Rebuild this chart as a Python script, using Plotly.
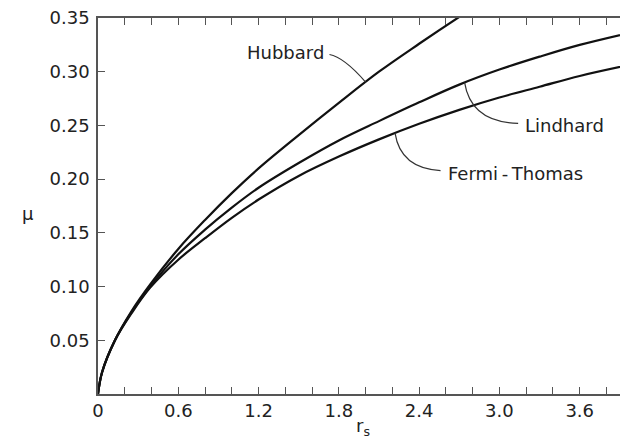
import numpy as np
import plotly.graph_objects as go

# ---- data ----
rs_hubbard = [0, 0.03, 0.127, 0.25, 0.39, 0.6, 0.8, 1.0, 1.2, 1.5, 1.8, 2.1, 2.4, 2.7, 3.0]
mu_hubbard = [0, 0.020, 0.050, 0.077, 0.102, 0.135, 0.162, 0.187, 0.210, 0.241, 0.271, 0.300, 0.326, 0.351, 0.375]

rs_lindhard = [0, 0.03, 0.127, 0.25, 0.39, 0.6, 0.8, 1.0, 1.2, 1.5, 1.8, 2.1, 2.4, 2.7, 3.0, 3.3, 3.6, 4.0]
mu_lindhard = [0, 0.020, 0.050, 0.076, 0.100, 0.130, 0.153, 0.1735, 0.192, 0.215, 0.236, 0.254, 0.2715, 0.288, 0.302, 0.314, 0.325, 0.337]

rs_fermi = [0, 0.03, 0.127, 0.25, 0.39, 0.6, 0.8, 1.0, 1.2, 1.5, 1.8, 2.1, 2.4, 2.7, 3.0, 3.3, 3.6, 4.0]
mu_fermi = [0, 0.020, 0.050, 0.075, 0.099, 0.125, 0.145, 0.164, 0.181, 0.203, 0.221, 0.237, 0.2515, 0.2645, 0.276, 0.286, 0.296, 0.307]

x_ticks = [0, 0.6, 1.2, 1.8, 2.4, 3.0, 3.6]
x_ticklabels = ["0", "0.6", "1.2", "1.8", "2.4", "3.0", "3.6"]
y_ticks = [0.05, 0.10, 0.15, 0.20, 0.25, 0.30, 0.35]
y_ticklabels = ["0.05", "0.10", "0.15", "0.20", "0.25", "0.30", "0.35"]

# label positions (data units) and where the leader lines touch the curves
hub_label = (1.73, 0.316)
hub_touch_r = 2.0
lin_label = (3.14, 0.252)
lin_touch_r = 2.74
ft_label = (2.56, 0.208)
ft_touch_r = 2.22

XMAX = 3.961
YMAX = 0.35
INK = "#111111"
AX = "#555555"
FONT = "DejaVu Sans"

fig = go.Figure()
for xs, ys in [(rs_hubbard, mu_hubbard), (rs_lindhard, mu_lindhard), (rs_fermi, mu_fermi)]:
    fig.add_trace(go.Scatter(x=xs, y=ys, mode="lines", line=dict(color=INK, width=2.2, shape="spline", smoothing=1.0),
                             showlegend=False, hoverinfo="skip"))
# invisible trace to carry the right-hand axis
fig.add_trace(go.Scatter(x=[0], y=[0], yaxis="y2", mode="markers", marker=dict(opacity=0),
                         showlegend=False, hoverinfo="skip"))

def leader(touch_r, xs, ys, label, ctrl_frac_x, ctrl_y):
    ty = float(np.interp(touch_r, xs, ys))
    lx, ly = label
    cx = touch_r + ctrl_frac_x * (lx - touch_r)
    return f"M {touch_r},{ty} Q {cx},{ctrl_y} {lx},{ly}"

lead = dict(color="#333", width=1.2)
shapes = [
    dict(type="path", path=leader(hub_touch_r, rs_hubbard, mu_hubbard, hub_label, 0.6, 0.3135), xref="x", yref="y", line=lead),
    dict(type="path", path=leader(lin_touch_r, rs_lindhard, mu_lindhard, lin_label, 0.12, 0.253), xref="x", yref="y", line=lead),
    dict(type="path", path=leader(ft_touch_r, rs_fermi, mu_fermi, ft_label, 0.12, 0.210), xref="x", yref="y", line=lead),
]

tf = dict(family=FONT, size=18, color="#222")
annotations = [
    dict(x=hub_label[0], y=hub_label[1], text="Hubbard", showarrow=False, xanchor="right", yanchor="middle",
         xshift=-3, yshift=2, font=tf),
    dict(x=lin_label[0], y=lin_label[1], text="Lindhard", showarrow=False, xanchor="left", yanchor="middle",
         xshift=5, yshift=-2, font=tf),
    dict(x=ft_label[0], y=ft_label[1], text="Fermi\u2009-\u2009Thomas", showarrow=False, xanchor="left", yanchor="middle",
         xshift=5, yshift=-3, font=tf),
    dict(x=0.5, y=0, xref="paper", yref="paper", text="r<sub>s</sub>", showarrow=False,
         xanchor="center", yanchor="top", yshift=-19, font=dict(family=FONT, size=18, color="#222")),
    dict(x=0, y=0.481, xref="paper", yref="paper", text="\u03bc", showarrow=False,
         xanchor="center", yanchor="middle", xshift=-70, font=dict(family=FONT, size=18, color="#222")),
]

# the page body adds an 8px offset, so the figure is sized to fit the 628x438 window
fig.update_layout(
    width=620, height=430,
    margin=dict(l=90, r=0, t=10, b=44),
    paper_bgcolor="white", plot_bgcolor="white",
    shapes=shapes, annotations=annotations,
    xaxis=dict(range=[0, XMAX], tickvals=x_ticks, ticktext=x_ticklabels, automargin=False,
               ticks="inside", ticklen=7, tickwidth=1.2, tickcolor=AX, ticklabeloverflow="allow",
               minor=dict(dtick=0.2, tick0=0, ticks="inside", ticklen=4, tickwidth=1.1, tickcolor=AX, showgrid=False),
               showline=True, linecolor=AX, linewidth=1.5, mirror="allticks",
               showgrid=False, zeroline=False, tickfont=tf),
    yaxis=dict(range=[0, YMAX], tickvals=y_ticks, ticktext=y_ticklabels, automargin=False,
               ticks="inside", ticklen=7, tickwidth=1.2, tickcolor=AX, ticklabelstandoff=3,
               ticklabeloverflow="allow",
               showline=True, linecolor=AX, linewidth=1.5, mirror=False,
               showgrid=False, zeroline=False, tickfont=tf),
    yaxis2=dict(range=[0, YMAX], overlaying="y", side="right", tickvals=y_ticks, automargin=False,
                ticks="inside", ticklen=6, tickwidth=1.2, tickcolor=AX,
                showticklabels=False, showline=False, showgrid=False, zeroline=False),
)

fig.write_html("out.html")
